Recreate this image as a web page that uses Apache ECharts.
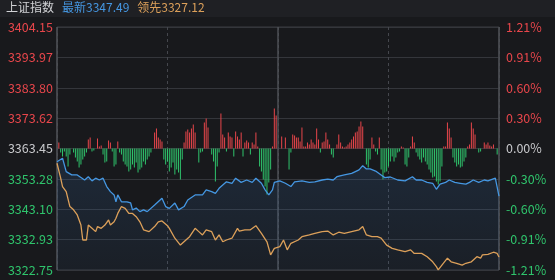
<!DOCTYPE html>
<html>
<head>
<meta charset="utf-8">
<script src="https://cdn.jsdelivr.net/npm/echarts@6/dist/echarts.min.js"></script>
<style>
  html, body { margin: 0; padding: 0; background: #18191c; }
  #chart { width: 555px; height: 280px; }
</style>
</head>
<body>
<div id="chart"></div>
<script>
// tick labels, bottom to top
const leftLabels = ['3322.75', '3332.93', '3343.10', '3353.28', '3363.45', '3373.62', '3383.80', '3393.97', '3404.15'];
const rightLabels = ['-1.21%', '-0.91%', '-0.60%', '-0.30%', '0.00%', '0.30%', '0.60%', '0.91%', '1.21%'];
const priceMin = 3322.75;
const priceMax = 3404.15;

// [minute since open, index value]
const latestLine = [
  [0, 3359.0], [3, 3360.2], [5, 3355.7], [8, 3354.6], [11, 3354.6], [15, 3352.9], [17, 3354.0], [19, 3352.6],
  [21, 3353.5], [23, 3352.9], [25, 3353.5], [27, 3350.7], [29, 3349.0], [31, 3347.9], [32, 3345.6], [33, 3347.9],
  [35, 3345.6], [38, 3345.6], [40, 3345.2], [41, 3342.9], [43, 3343.5], [45, 3342.3], [47, 3342.9], [49, 3342.3],
  [50, 3342.9], [53, 3344.5], [57, 3346.8], [59, 3344.0], [61, 3343.4], [64, 3345.2], [66, 3342.9], [69, 3344.0],
  [71, 3346.2], [75, 3347.9], [79, 3347.9], [81, 3349.6], [84, 3349.0], [86, 3348.4], [88, 3350.1], [90, 3351.2],
  [92, 3352.3], [95, 3351.8], [97, 3353.5], [98, 3352.9], [100, 3352.1], [103, 3352.9], [106, 3352.1], [108, 3353.5],
  [111, 3351.8], [113, 3349.6], [115, 3347.9], [117, 3349.6], [118, 3352.1], [121, 3352.6], [124, 3351.8], [127, 3350.7],
  [129, 3352.3], [133, 3352.6], [137, 3352.1], [140, 3352.3], [144, 3352.9], [147, 3353.2], [150, 3352.9], [152, 3354.0],
  [156, 3354.6], [160, 3355.1], [164, 3356.3], [166, 3357.7], [168, 3356.6], [170, 3356.6], [173, 3355.9], [176, 3354.6],
  [178, 3353.7], [181, 3353.9], [185, 3352.9], [189, 3352.6], [193, 3354.0], [195, 3352.9], [198, 3352.9], [201, 3352.1],
  [204, 3351.8], [206, 3349.8], [208, 3351.5], [211, 3352.1], [213, 3352.9], [216, 3352.1], [219, 3351.8], [222, 3351.5],
  [224, 3352.1], [226, 3352.9], [229, 3352.1], [232, 3352.9], [234, 3352.6], [238, 3353.5], [239, 3353.2], [240, 3347.49]
];

const leadingLine = [
  [0, 3358.5], [2, 3353.5], [3, 3350.7], [5, 3349.0], [7, 3344.0], [9, 3342.9], [11, 3341.2], [13, 3337.8],
  [14, 3332.8], [16, 3332.8], [17, 3337.8], [19, 3336.7], [21, 3335.6], [22, 3337.3], [24, 3336.7], [26, 3337.8],
  [28, 3339.5], [29, 3337.8], [31, 3338.9], [32, 3340.1], [33, 3341.7], [35, 3344.0], [37, 3343.4], [39, 3341.7],
  [41, 3341.7], [43, 3340.6], [45, 3338.9], [47, 3336.2], [50, 3335.6], [51, 3336.2], [53, 3337.3], [55, 3338.9],
  [57, 3339.2], [60, 3337.6], [61, 3336.7], [64, 3333.4], [67, 3331.1], [70, 3332.8], [72, 3333.9], [75, 3336.7],
  [77, 3335.6], [79, 3334.5], [81, 3336.2], [84, 3335.6], [86, 3332.8], [88, 3334.5], [90, 3332.2], [92, 3332.8],
  [95, 3333.4], [98, 3336.7], [99, 3335.8], [102, 3336.2], [105, 3336.2], [108, 3337.6], [111, 3335.0], [114, 3332.2],
  [116, 3327.8], [118, 3330.0], [119, 3330.6], [121, 3330.6], [123, 3332.8], [125, 3329.5], [127, 3331.7], [128, 3331.1],
  [131, 3332.8], [133, 3333.9], [137, 3334.5], [140, 3335.0], [144, 3335.6], [147, 3335.8], [150, 3334.5], [153, 3335.4],
  [156, 3335.0], [160, 3335.6], [164, 3336.2], [166, 3337.3], [168, 3334.5], [171, 3333.9], [174, 3333.9], [176, 3333.4],
  [179, 3331.1], [182, 3330.0], [185, 3329.5], [189, 3328.9], [192, 3329.5], [194, 3328.3], [198, 3328.3], [201, 3327.2],
  [204, 3325.5], [206, 3323.9], [207, 3322.8], [209, 3324.4], [212, 3326.7], [214, 3325.5], [217, 3325.0], [220, 3324.4],
  [222, 3325.0], [225, 3325.5], [228, 3327.2], [230, 3326.7], [231, 3327.8], [234, 3328.0], [237, 3328.7], [239, 3328.3],
  [240, 3327.12]
];

// per-minute buy/sell force, index = minute
const forceBars = [
  0, 6, -4, -8, -3, -8, -18, -6, 0, -4, -9, -13, -19, -16, -11, -8, -4, 9, 11, -3,
  -2, 0, 10, 2, 3, -6, -14, -13, 8, 6, -3, -18, -16, 7, -4, -6, -13, -16, -18, -23,
  -21, -16, -19, -14, -24, -21, -19, -13, -16, -11, -8, -4, 0, 16, 20, 11, 9, 7, -11, -16,
  -13, -23, -19, -14, -26, -21, -24, -31, -11, 6, 17, 19, 16, 20, 24, 16, 0, -14, -4, -3,
  26, 30, 21, 0, -6, -13, -33, -18, -4, 35, 14, 11, -3, 16, 12, 11, -8, 17, 12, 9,
  16, -8, 6, 8, 6, -6, 6, 4, 16, 2, -18, -23, -31, -38, -46, -34, -21, 2, 40, 33,
  0, 0, 12, 0, 11, 0, -21, -4, 14, 13, 11, 11, 7, 21, 2, 2, 6, 4, 9, 6,
  4, 20, 9, -4, 6, 7, 16, 9, 4, -6, -9, 0, 4, 14, 6, 2, 1, 2, 4, 6,
  9, 12, 16, 17, 22, 27, 22, 0, -16, -19, -11, 11, 4, -3, -6, 11, -21, -31, -24, -23,
  -18, -13, -8, -13, -9, -4, -3, 2, 1, -16, -18, -9, 2, 12, 6, -4, -8, -11, -14, -9,
  -13, -16, -21, -24, -29, -28, -33, -36, -33, -18, 2, 2, 26, 20, 11, -9, -14, -18, -16, -19,
  -18, -13, -9, 2, 4, 26, 20, 14, 0, -4, -3, 0, 6, 4, 6, 3, 2, 4, 0, -6
];

const RED = '#e8464b';
const GREEN = '#2fc46c';
const NEUTRAL = '#c8c9cc';
const BLUE = '#4597e2';
const ORANGE = '#dca05a';

const chart = echarts.init(document.getElementById('chart'));

const lastLatest = latestLine[latestLine.length - 1][1].toFixed(2);
const lastLeading = leadingLine[leadingLine.length - 1][1].toFixed(2);

function labelColor(val) {
  const i = Number(val);
  if (i > 4) return RED;
  if (i < 4) return GREEN;
  return NEUTRAL;
}

const headFont = { fontSize: 12, fontWeight: 'normal', fontFamily: '"Noto Sans CJK SC"' };

chart.setOption({
  backgroundColor: '#18191c',
  animation: false,
  textStyle: { fontFamily: '"Noto Sans CJK SC", "Noto Sans", sans-serif' },
  graphic: [{
    type: 'rect',
    left: 0,
    top: 0,
    shape: { width: 555, height: 17 },
    style: { fill: '#1f2024' },
    z: 0
  }],
  title: {
    left: 6,
    top: 1,
    padding: 0,
    text: '{n|上证指数}{b|最新' + lastLatest + '}{o|领先' + lastLeading + '}',
    textStyle: {
      fontWeight: 'normal',
      rich: {
        n: Object.assign({ color: '#d2d3d6' }, headFont),
        b: Object.assign({ color: BLUE, padding: [0, 0, 0, 8] }, headFont),
        o: Object.assign({ color: ORANGE, padding: [0, 0, 0, 8] }, headFont)
      }
    }
  },
  grid: {
    left: 57,
    right: 56,
    top: 27,
    bottom: 10,
    show: true,
    borderColor: '#3a3c41',
    borderWidth: 1
  },
  xAxis: [{
    type: 'value',
    min: 0,
    max: 240,
    interval: 60,
    axisLine: { show: false },
    axisTick: { show: false },
    axisLabel: { show: false },
    splitLine: { show: true, lineStyle: { color: '#45474d', type: [3, 3] } }
  }, {
    type: 'value',
    min: 0,
    max: 240,
    interval: 120,
    axisLine: { show: false },
    axisTick: { show: false },
    axisLabel: { show: false },
    splitLine: { show: true, lineStyle: { color: '#4d4f55', width: 1.5 } }
  }],
  yAxis: [{
    type: 'value',
    position: 'left',
    min: 0,
    max: 8,
    interval: 1,
    axisLine: { show: false },
    axisTick: { show: false },
    axisLabel: {
      margin: 4,
      fontSize: 12.5,
      color: labelColor,
      formatter: (v) => leftLabels[v]
    },
    splitLine: { show: true, lineStyle: { color: '#34363b' } }
  }, {
    type: 'value',
    position: 'right',
    min: 0,
    max: 8,
    interval: 1,
    axisLine: { show: false },
    axisTick: { show: false },
    axisLabel: {
      margin: 7,
      fontSize: 12.5,
      color: labelColor,
      formatter: (v) => rightLabels[v]
    },
    splitLine: { show: false }
  }, {
    type: 'value',
    min: priceMin,
    max: priceMax,
    show: false,
    splitLine: { show: false }
  }, {
    type: 'value',
    min: -121.5,
    max: 121.5,
    show: false,
    splitLine: { show: false }
  }],
  series: [{
    type: 'bar',
    xAxisIndex: 0,
    yAxisIndex: 3,
    barWidth: 1,
    data: forceBars.map((v, i) => [i, v]),
    itemStyle: {
      color: (p) => (p.value[1] >= 0 ? RED : GREEN)
    },
    z: 2
  }, {
    type: 'line',
    xAxisIndex: 0,
    yAxisIndex: 2,
    data: latestLine,
    showSymbol: false,
    lineStyle: { color: BLUE, width: 1.3 },
    areaStyle: {
      color: new echarts.graphic.LinearGradient(0, 0, 0, 1, [
        { offset: 0, color: 'rgba(55, 110, 175, 0.28)' },
        { offset: 1, color: 'rgba(55, 110, 175, 0.10)' }
      ])
    },
    z: 3
  }, {
    type: 'line',
    xAxisIndex: 0,
    yAxisIndex: 2,
    data: leadingLine,
    showSymbol: false,
    lineStyle: { color: ORANGE, width: 1.3 },
    z: 4
  }]
});
</script>
</body>
</html>
